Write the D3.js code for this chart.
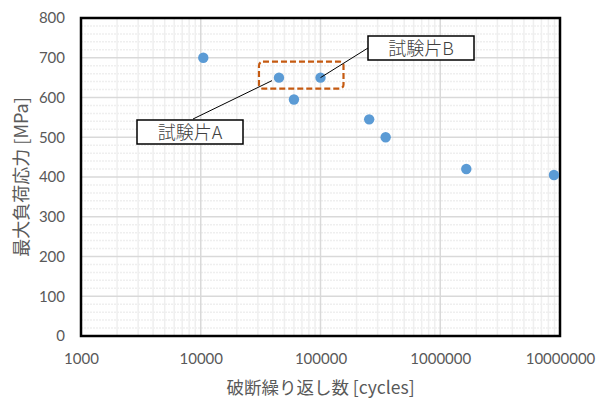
<!DOCTYPE html>
<html><head><meta charset="utf-8">
<script src="https://cdn.jsdelivr.net/npm/d3@7"></script>
<style>body{margin:0;background:#fff}svg{display:block}</style>
</head><body>
<script>
const cycles = [10500, 45000, 60000, 100000, 255000, 350000, 1650000, 8900000];
const stress = [700, 650, 595, 650, 545, 500, 420, 405];
const xTicks = [1000, 10000, 100000, 1000000, 10000000];
const yTicks = [0, 100, 200, 300, 400, 500, 600, 700, 800];
const labelA = "試験片A", labelB = "試験片B";
const xTitle = "破断繰り返し数 [cycles]";
const yTitle = "最大負荷応力 [MPa]";

const W = 600, H = 398;
const m = {l: 81, r: 40, t: 18, b: 62};
const svg = d3.select("body").append("svg").attr("width", W).attr("height", H);
const x = d3.scaleLog().domain([1000, 10000000]).range([m.l, W - m.r]);
const y = d3.scaleLinear().domain([0, 800]).range([H - m.b, m.t]);
const f = "Lato, 'Noto Sans', sans-serif";
const jf = "'Noto Sans CJK JP', sans-serif";

const L = x(1000), R = x(10000000), T = y(800), B = y(0);

// minor grid
const minorX = [];
for (let d = 1000; d < 10000000; d *= 10) for (let k = 2; k <= 9; k++) minorX.push(d * k);
const minorY = d3.range(0, 801, 20).filter(v => v % 100 !== 0);
const g = svg.append("g");
g.selectAll("line.mx").data(minorX).join("line").attr("class", "mx")
  .attr("x1", d => x(d)).attr("x2", d => x(d)).attr("y1", B).attr("y2", T)
  .style("stroke", "#efefef").style("stroke-width", 1.5);
g.selectAll("line.my").data(minorY).join("line").attr("class", "my")
  .attr("x1", L).attr("x2", R).attr("y1", d => y(d)).attr("y2", d => y(d))
  .style("stroke", "#efefef").style("stroke-width", 1.5).style("stroke-dasharray", "2,1");
g.selectAll("line.Mx").data(xTicks).join("line").attr("class", "Mx")
  .attr("x1", d => x(d)).attr("x2", d => x(d)).attr("y1", B).attr("y2", T)
  .style("stroke", "#d9d9d9").style("stroke-width", 1.5);
g.selectAll("line.My").data(yTicks).join("line").attr("class", "My")
  .attr("x1", L).attr("x2", R).attr("y1", d => y(d)).attr("y2", d => y(d))
  .style("stroke", "#d9d9d9").style("stroke-width", 1.5);

// axes tick labels
const xa = svg.append("g").attr("transform", `translate(0,${B})`)
  .call(d3.axisBottom(x).tickValues(xTicks).tickFormat(d3.format("d")).tickSize(0).tickPadding(17));
xa.select(".domain").remove();
xa.selectAll("text").attr("font-family", f).attr("font-size", 15).style("fill", "#595959");
const ya = svg.append("g").attr("transform", `translate(${L},0)`)
  .call(d3.axisLeft(y).tickValues(yTicks).tickSize(0).tickPadding(16));
ya.select(".domain").remove();
ya.selectAll("text").attr("font-family", f).attr("font-size", 15).style("fill", "#595959");

// plot frame
svg.append("rect").attr("x", L).attr("y", T).attr("width", R - L).attr("height", B - T)
  .attr("fill", "none").attr("stroke", "black").attr("stroke-width", 2.5);

// titles
svg.append("text").attr("x", (L + R) / 2).attr("y", 394).attr("text-anchor", "middle")
  .attr("font-family", jf).attr("font-size", 17.5).style("fill", "#595959").text(xTitle);
svg.append("g").attr("opacity", 0.99)
  .append("text").attr("transform", `translate(28,${(B + T) / 2}) rotate(-90)`).attr("text-anchor", "middle")
  .attr("font-family", jf).attr("font-size", 18).style("fill", "#595959").text(yTitle);

// orange dashed box around A & B
const bx1 = x(cycles[1]) - 20, bx2 = x(cycles[3]) + 23;
svg.append("rect").attr("x", bx1).attr("y", y(stress[1]) - 16).attr("width", bx2 - bx1).attr("height", 27)
  .attr("rx", 4).style("fill", "none").style("stroke", "#c55a11").style("stroke-width", 2.2).style("stroke-dasharray", "6,3");

// points
svg.selectAll("circle.pt").data(cycles).join("circle").attr("class", "pt")
  .attr("cx", d => x(d)).attr("cy", (d, i) => y(stress[i])).attr("r", 5.2).style("fill", "#5b9bd5");

// callouts
function callout(px, py, bxL, byT, bw, bh, lx, ly, txt) {
  svg.append("line").attr("x1", px).attr("y1", py).attr("x2", lx).attr("y2", ly).style("stroke", "#000").style("stroke-width", 1);
  svg.append("rect").attr("x", bxL).attr("y", byT).attr("width", bw).attr("height", bh)
    .style("fill", "#fff").style("stroke", "#000").style("stroke-width", 1.5);
  svg.append("text").attr("x", bxL + bw / 2).attr("y", byT + bh / 2 + 6.5).attr("text-anchor", "middle")
    .attr("font-family", jf).attr("font-size", 18).attr("font-weight", 300).style("fill", "#404040").text(txt);
}
callout(x(cycles[1]) - 7, y(stress[1]) + 3, 137, 120, 106, 24, 193, 119, labelA);
callout(x(cycles[3]), y(stress[3]), 368, 36, 106, 24, 368, 48, labelB);
</script>
</body></html>
